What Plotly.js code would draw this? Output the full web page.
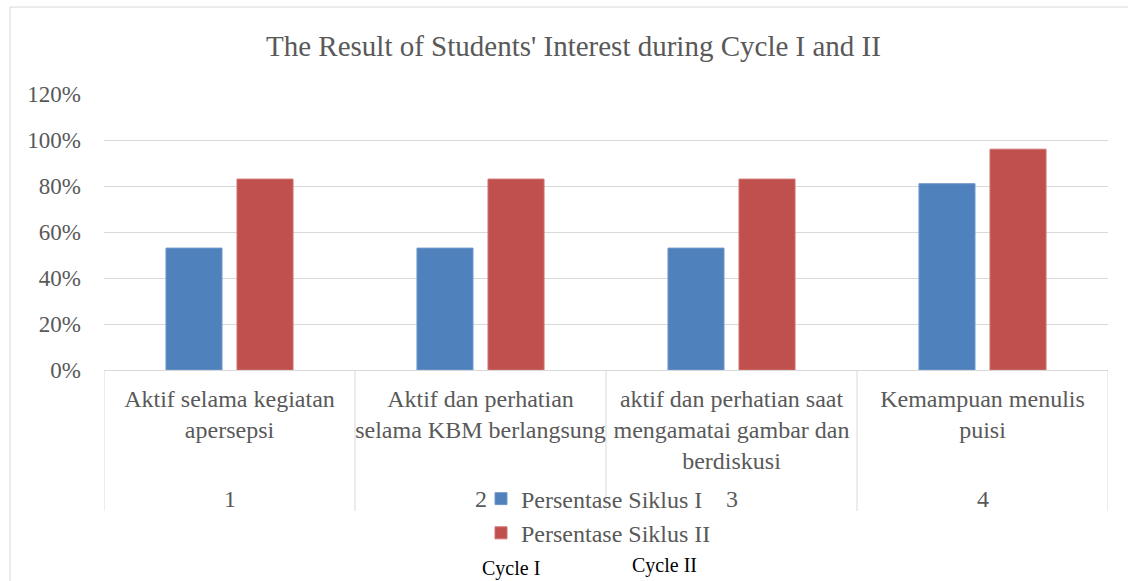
<!DOCTYPE html>
<html>
<head>
<meta charset="utf-8">
<script src="https://cdn.plot.ly/plotly-3.0.1.min.js"></script>
<style>
  html, body { margin: 0; padding: 0; background: #ffffff; }
  #chart { width: 1128px; height: 581px; }
</style>
</head>
<body>
<div id="chart"></div>
<script>
// ---- data ----
const groupNumbers = ["1", "2", "3", "4"];
const categories = [
  "Aktif selama kegiatan<br>apersepsi",
  "Aktif dan perhatian<br>selama KBM berlangsung",
  "aktif dan perhatian saat<br>mengamatai gambar dan<br>berdiskusi",
  "Kemampuan menulis<br>puisi"
];
const seriesNames = ["Persentase Siklus I", "Persentase Siklus II"];
const siklus1 = [0.53, 0.53, 0.53, 0.81];
const siklus2 = [0.83, 0.83, 0.83, 0.96];
const yTickVals = [0, 0.2, 0.4, 0.6, 0.8, 1.0, 1.2];
const yTickText = ["0%", "20%", "40%", "60%", "80%", "100%", "120%"];
const chartTitle = "The Result of Students' Interest during Cycle I and II";
const footerLabels = ["Cycle I", "Cycle II"];

const serif = "Liberation Serif";
const grey = "#595959";

const traces = [
  {
    type: "bar",
    name: seriesNames[0],
    x: categories,
    y: siklus1,
    marker: { color: "#4F81BD", line: { color: "#6E98CC", width: 1 } },
    hoverinfo: "skip"
  },
  {
    type: "bar",
    name: seriesNames[1],
    x: categories,
    y: siklus2,
    marker: { color: "#C0504D", line: { color: "#D07370", width: 1 } },
    hoverinfo: "skip"
  }
];

// second row of category labels (group numbers), placed with the x axis scale
const numberAnnotations = groupNumbers.map((g, i) => ({
  text: g,
  xref: "x", yref: "paper",
  x: categories[i], y: -0.467,
  xanchor: "center", yanchor: "middle",
  showarrow: false,
  font: { family: serif, size: 24, color: grey }
}));

// vertical dividers at the category boundaries
const dividerShapes = [];
for (let i = 0; i <= categories.length; i++) {
  dividerShapes.push({
    type: "line",
    xref: "x", yref: "paper",
    x0: i - 0.5, x1: i - 0.5, y0: 0, y1: -0.511,
    line: { color: "#d9d9d9", width: 1 },
    layer: "below"
  });
}

const layout = {
  width: 1128,
  height: 581,
  margin: { l: 104, r: 20, t: 94, b: 211 },
  paper_bgcolor: "#ffffff",
  plot_bgcolor: "#ffffff",
  font: { family: serif, color: grey, size: 22 },
  title: {
    text: chartTitle,
    font: { family: serif, size: 29, color: grey },
    xref: "paper",
    x: 0.4676,
    xanchor: "center",
    yref: "container",
    y: 0.921,
    yanchor: "middle"
  },
  barmode: "group",
  bargap: 0.434,
  bargroupgap: 0.211,
  showlegend: true,
  legend: {
    x: 0.3755,
    xanchor: "left",
    y: -0.386,
    yanchor: "top",
    bgcolor: "rgba(0,0,0,0)",
    font: { family: serif, size: 24, color: grey },
    orientation: "v"
  },
  xaxis: {
    type: "category",
    range: [-0.5, 3.5],
    showgrid: false,
    showline: true,
    linecolor: "#d9d9d9",
    linewidth: 1,
    ticks: "",
    ticklabelstandoff: 7,
    tickfont: { family: serif, size: 24, color: grey }
  },
  yaxis: {
    range: [0, 1.2],
    tickvals: yTickVals,
    ticktext: yTickText,
    showgrid: true,
    gridcolor: "#d9d9d9",
    gridwidth: 1,
    zeroline: false,
    showline: false,
    ticks: "",
    ticklabelstandoff: 22,
    tickfont: { family: serif, size: 23, color: grey }
  },
  shapes: [
    {
      type: "rect",
      xref: "paper", yref: "paper",
      x0: -0.0936, x1: 1.2, y0: -1.2, y1: 1.315,
      line: { color: "#d9d9d9", width: 1 },
      fillcolor: "rgba(0,0,0,0)",
      layer: "below"
    }
  ].concat(dividerShapes),
  annotations: numberAnnotations.concat([
    {
      text: footerLabels[0],
      xref: "paper", yref: "paper",
      x: 0.405, y: -0.72,
      xanchor: "center", yanchor: "middle",
      showarrow: false,
      font: { family: serif, size: 20, color: "#000000" }
    },
    {
      text: footerLabels[1],
      xref: "paper", yref: "paper",
      x: 0.5585, y: -0.71,
      xanchor: "center", yanchor: "middle",
      showarrow: false,
      font: { family: serif, size: 20, color: "#000000" }
    }
  ])
};

Plotly.newPlot("chart", traces, layout, { displayModeBar: false, staticPlot: true });
</script>
</body>
</html>
